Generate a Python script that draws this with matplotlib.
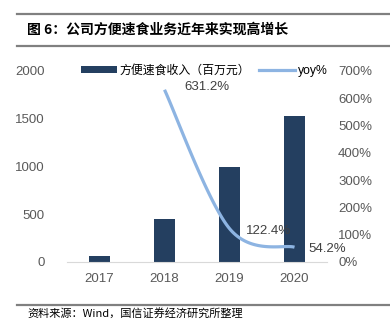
import numpy as np
import matplotlib.pyplot as plt
from matplotlib.lines import Line2D
from matplotlib.patches import Patch

plt.rcParams['font.family'] = ['Liberation Sans', 'Noto Sans CJK SC', 'DejaVu Sans']

# data
years = ['2017', '2018', '2019', '2020']
revenue = [61.1, 446.8, 993.7, 1532.3]       # 百万元
yoy_years = [1, 2, 3]                           # index of 2018..2020
yoy = [631.2, 122.4, 54.2]                      # %

title = '图 6：公司方便速食业务近年来实现高增长'
source = '资料来源：Wind，国信证券经济研究所整理'

bar_color = '#243F60'
line_color = '#8DB4E2'
tick_color = '#595959'


def smooth(xs, ys, n=60):
    # Catmull-Rom style cubic Bezier through the points
    pts = np.column_stack([xs, ys]).astype(float)
    ext = np.vstack([pts[0], pts, pts[-1]])
    out = []
    for i in range(len(pts) - 1):
        p0, p1, p2, p3 = ext[i], ext[i + 1], ext[i + 2], ext[i + 3]
        c1 = p1 + (p2 - p0) / 6
        c2 = p2 - (p3 - p1) / 6
        t = np.linspace(0, 1, n)[:, None]
        seg = ((1 - t) ** 3) * p1 + 3 * ((1 - t) ** 2) * t * c1 \
            + 3 * (1 - t) * t ** 2 * c2 + t ** 3 * p2
        out.append(seg)
    s = np.vstack(out)
    return s[:, 0], s[:, 1]


fig = plt.figure(figsize=(3.9, 3.24), dpi=100)
ax = fig.add_axes([0.1718, 0.1914, 0.6667, 0.5895])
ax2 = ax.twinx()

x = np.arange(len(years))
ax.bar(x, revenue, width=0.32, color=bar_color, zorder=2)
ax.set_xlim(-0.5, 3.5)
ax.set_ylim(0, 2000)
ax.set_yticks([0, 500, 1000, 1500, 2000])
ax.set_xticks(x)
ax.set_xticklabels(years)

sx, sy = smooth(yoy_years, yoy)
ax2.plot(sx, sy, color=line_color, lw=2.3, solid_capstyle='butt', zorder=3)
ax2.set_ylim(0, 700)
ax2.set_yticks(range(0, 701, 100))
ax2.set_yticklabels([f'{v}%' for v in range(0, 701, 100)])

for a in (ax, ax2):
    for s in a.spines.values():
        s.set_visible(False)
    a.tick_params(length=0, labelsize=9.5, colors=tick_color)
ax.spines['bottom'].set_visible(True)
ax.spines['bottom'].set_color('#D9D9D9')
ax.tick_params(axis='y', pad=16)
ax.tick_params(axis='x', pad=8)
ax2.tick_params(axis='y', pad=8)

# value labels
ax2.annotate(f'{yoy[0]}%', (yoy_years[0], yoy[0]), xytext=(14, 2),
             textcoords='offset points', fontsize=9.5, color='#404040',
             va='center', ha='left')
ax2.annotate(f'{yoy[1]}%', (yoy_years[1], yoy[1]), xytext=(12, -2),
             textcoords='offset points', fontsize=9.5, color='#404040',
             va='center', ha='left')
ax2.annotate(f'{yoy[2]}%', (yoy_years[2], yoy[2]), xytext=(10, -1),
             textcoords='offset points', fontsize=9.5, color='#404040',
             va='center', ha='left')

handles = [Patch(facecolor=bar_color, edgecolor='none'),
           Line2D([], [], color=line_color, lw=2.3)]
leg = ax.legend(handles, ['方便速食收入（百万元）', 'yoy%'], ncol=2,
                loc='center left', bbox_to_anchor=(0.035, 1.0), frameon=False,
                fontsize=8.6, handlelength=3.0, handleheight=0.5,
                handletextpad=0.2, columnspacing=0.8, borderaxespad=0)
leg.get_texts()[1].set_fontsize(8.8)

# header and footer rules
for yy in (14, 46, 305):
    fig.add_artist(Line2D([17 / 390, 1], [1 - yy / 324] * 2, color='#808080',
                          lw=1.6, transform=fig.transFigure))
fig.text(27 / 390, 1 - 30 / 324, title, fontsize=10, fontweight='bold',
         va='center', ha='left', family=['Noto Sans CJK SC'])
fig.text(27 / 390, 1 - 313 / 324, source, fontsize=8, va='center',
         ha='left', family=['Noto Sans CJK SC'])

fig.savefig('out.png', dpi=100)
